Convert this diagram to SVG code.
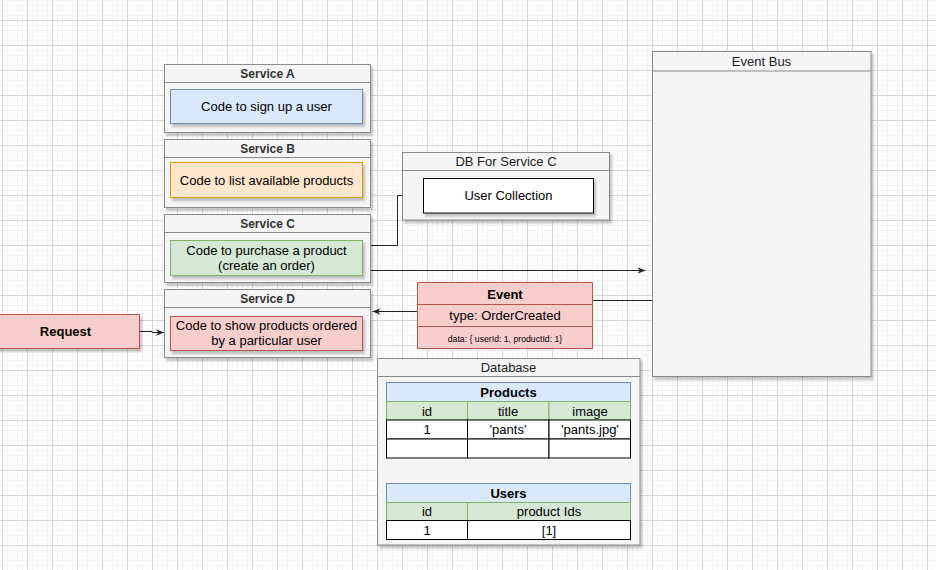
<svg xmlns="http://www.w3.org/2000/svg" width="936" height="570" viewBox="0 0 936 570">
  <defs>
    <pattern id="minor" x="2" y="0" width="5" height="5" patternUnits="userSpaceOnUse">
      <path d="M0.5,0 V5 M0,0.5 H5" stroke="#f3f3f3" stroke-width="1" fill="none"/>
    </pattern>
    <pattern id="major" x="2" y="20" width="25" height="25" patternUnits="userSpaceOnUse">
      <path d="M0.5,0 V25 M0,0.5 H25" stroke="#d6d6d6" stroke-width="1" fill="none"/>
    </pattern>
    <filter id="shadow" x="-10%" y="-10%" width="130%" height="130%">
      <feDropShadow dx="2" dy="3" stdDeviation="1" flood-color="#000" flood-opacity="0.22"/>
    </filter>
    <marker id="arrow" viewBox="0 0 10 10" refX="10" refY="5" markerWidth="8" markerHeight="8" markerUnits="userSpaceOnUse" orient="auto">
      <path d="M0,1 L10,5 L0,9 L3,5 z" fill="#222"/>
    </marker>
    <style>
      .cont { fill: #f5f5f5; stroke: #8a8a8a; stroke-width: 1; filter: url(#shadow); }
      .hdr { stroke: #8a8a8a; stroke-width: 1; fill: none; }
      .title { font-family: "Liberation Sans", Arial, sans-serif; font-size: 12px; font-weight: bold; fill: #333; text-anchor: middle; }
      .title2 { font-family: "Liberation Sans", Arial, sans-serif; font-size: 13px; fill: #222; text-anchor: middle; }
      .txt { font-family: "Liberation Sans", Arial, sans-serif; font-size: 13px; fill: #000; text-anchor: middle; }
      .bold { font-weight: bold; }
      .blue { fill: #dae8fc; stroke: #6c8ebf; }
      .orange { fill: #ffe6cc; stroke: #d79b00; }
      .green { fill: #d5e8d4; stroke: #82b366; }
      .red { fill: #f8cecc; stroke: #b85450; }
      .white { fill: #ffffff; stroke: #000; }
      .sh { filter: url(#shadow); }
      .edge { fill: none; stroke: #222; stroke-width: 1; }
    </style>
  </defs>

  <rect width="936" height="570" fill="#ffffff"/>
  <rect width="936" height="570" fill="url(#minor)"/>
  <rect width="936" height="570" fill="url(#major)"/>

  <g id="connectors">
    <path class="edge" d="M371,245.5 H397.5 V195.5 H402.5"/>
    <path class="edge" d="M371,270.5 H645.5" marker-end="url(#arrow)"/>
    <path class="edge" d="M652,300.5 H505 V311.5 H372.5" marker-end="url(#arrow)"/>
    <path class="edge" d="M140,331.5 H152 V332.5 H164" marker-end="url(#arrow)"/>
  </g>

  <g id="service-a">
    <rect class="cont" x="164.5" y="64.5" width="206" height="68"/>
    <line class="hdr" x1="164.5" y1="82.5" x2="370.5" y2="82.5"/>
    <text class="title" x="267.5" y="77.5">Service A</text>
    <rect class="blue sh" x="170.5" y="89.5" width="192" height="34"/>
    <text class="txt" x="266.5" y="111">Code to sign up a user</text>
  </g>

  <g id="service-b">
    <rect class="cont" x="164.5" y="139.5" width="206" height="68"/>
    <line class="hdr" x1="164.5" y1="157.5" x2="370.5" y2="157.5"/>
    <text class="title" x="267.5" y="152.5">Service B</text>
    <rect class="orange sh" x="170.5" y="162.5" width="192" height="35"/>
    <text class="txt" x="266.5" y="184.5">Code to list available products</text>
  </g>

  <g id="service-c">
    <rect class="cont" x="164.5" y="214.5" width="206" height="68"/>
    <line class="hdr" x1="164.5" y1="232.5" x2="370.5" y2="232.5"/>
    <text class="title" x="267.5" y="227.5">Service C</text>
    <rect class="green sh" x="170.5" y="240.5" width="192" height="35"/>
    <text class="txt" x="266.5" y="255">Code to purchase a product</text>
    <text class="txt" x="266.5" y="270">(create an order)</text>
  </g>

  <g id="service-d">
    <rect class="cont" x="164.5" y="289.5" width="206" height="68"/>
    <line class="hdr" x1="164.5" y1="307.5" x2="370.5" y2="307.5"/>
    <text class="title" x="267.5" y="302.5">Service D</text>
    <rect class="red sh" x="170.5" y="316.5" width="192" height="34"/>
    <text class="txt" x="266.5" y="330">Code to show products ordered</text>
    <text class="txt" x="266.5" y="344.5">by a particular user</text>
  </g>

  <g id="request">
    <rect class="red sh" x="-8.5" y="314.5" width="148" height="34"/>
    <text class="txt bold" x="65.5" y="336">Request</text>
  </g>

  <g id="db-service-c">
    <rect class="cont" x="402.5" y="152.5" width="207" height="67.5"/>
    <line class="hdr" x1="402.5" y1="170.5" x2="609.5" y2="170.5"/>
    <text class="title2" x="506" y="165.5">DB For Service C</text>
    <rect class="white sh" x="423.5" y="178.5" width="170" height="34.5"/>
    <text class="txt" x="508.5" y="200">User Collection</text>
  </g>

  <g id="event">
    <rect class="red" x="417.5" y="282.5" width="175" height="66"/>
    <line x1="417.5" y1="304.5" x2="592.5" y2="304.5" stroke="#b85450"/>
    <line x1="417.5" y1="326.5" x2="592.5" y2="326.5" stroke="#b85450"/>
    <text class="txt bold" x="505" y="298.5">Event</text>
    <text class="txt" x="505" y="320">type: OrderCreated</text>
    <text class="txt" x="505" y="341.5" style="font-size:8.7px">data: { userId: 1, productId: 1}</text>
  </g>

  <g id="event-bus">
    <rect class="cont" x="652.5" y="51.5" width="218.5" height="325"/>
    <line class="hdr" x1="652.5" y1="71" x2="871" y2="71"/>
    <text class="title2" x="761.5" y="66">Event Bus</text>
  </g>

  <g id="database">
    <rect class="cont" x="377.5" y="358.5" width="262.5" height="186.5"/>
    <line class="hdr" x1="377.5" y1="376.5" x2="640" y2="376.5"/>
    <text class="title2" x="508.5" y="372">Database</text>

    <g id="products-table">
      <rect class="blue" x="386.5" y="382.5" width="244" height="19"/>
      <text class="txt bold" x="508.5" y="397">Products</text>
      <rect class="green" x="386.5" y="401.5" width="81" height="18.5"/>
      <rect class="green" x="467.5" y="401.5" width="81.5" height="18.5"/>
      <rect class="green" x="549" y="401.5" width="81.5" height="18.5"/>
      <text class="txt" x="427" y="415.5">id</text>
      <text class="txt" x="508" y="415.5">title</text>
      <text class="txt" x="590" y="415.5">image</text>
      <rect class="white" x="386.5" y="420" width="81" height="19"/>
      <rect class="white" x="467.5" y="420" width="81.5" height="19"/>
      <rect class="white" x="549" y="420" width="81.5" height="19"/>
      <text class="txt" x="427" y="434">1</text>
      <text class="txt" x="508" y="434">'pants'</text>
      <text class="txt" x="590" y="434">'pants.jpg'</text>
      <rect class="white" x="386.5" y="439" width="81" height="19"/>
      <rect class="white" x="467.5" y="439" width="81.5" height="19"/>
      <rect class="white" x="549" y="439" width="81.5" height="19"/>
    </g>

    <g id="users-table">
      <rect class="blue" x="386.5" y="483.5" width="244" height="19"/>
      <text class="txt bold" x="508.5" y="497.5">Users</text>
      <rect class="green" x="386.5" y="502.5" width="81" height="18"/>
      <rect class="green" x="467.5" y="502.5" width="163" height="18"/>
      <text class="txt" x="427" y="516">id</text>
      <text class="txt" x="549" y="516">product Ids</text>
      <rect class="white" x="386.5" y="520.5" width="81" height="19"/>
      <rect class="white" x="467.5" y="520.5" width="163" height="19"/>
      <text class="txt" x="427" y="534.5">1</text>
      <text class="txt" x="549" y="534.5">[1]</text>
    </g>
  </g>
</svg>
